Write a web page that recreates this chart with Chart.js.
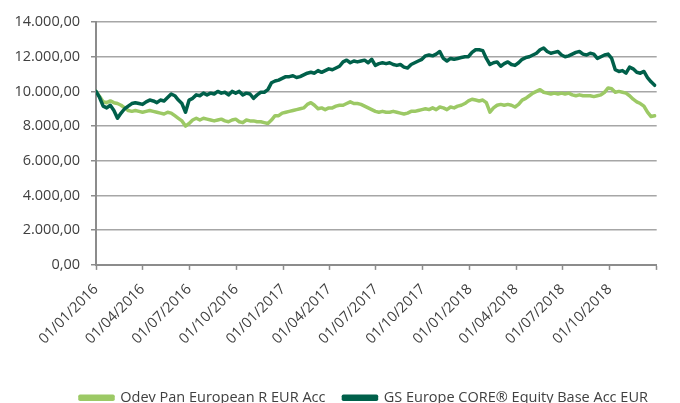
<!DOCTYPE html>
<html>
<head>
<meta charset="utf-8">
<script src="https://cdn.jsdelivr.net/npm/chart.js@4.4.1/dist/chart.umd.min.js"></script>
<style>
  html, body { margin: 0; padding: 0; background: #fff; }
  #wrap { width: 680px; height: 403px; overflow: hidden; }
</style>
</head>
<body>
<div id="wrap"><canvas id="chart" width="680" height="415"></canvas></div>
<script>
// weekly samples from 01/01/2016
const odey = [
  10000, 9700, 9400, 9350, 9450, 9350, 9300, 9200, 9050, 8900, 8850, 8900, 8850, 8800, 8850, 8900, 8850, 8800, 8750, 8700, 8800, 8750, 8600, 8450, 8300, 8000, 8150,
  8350, 8450, 8350, 8450, 8400, 8350, 8300, 8350, 8400, 8300, 8250, 8350, 8400, 8250, 8200, 8350, 8300, 8300, 8250, 8250, 8200, 8150, 8350, 8600, 8600, 8750, 8800,
  8850, 8900, 8950, 9000, 9050, 9250, 9350, 9200, 9000, 9050, 8950, 9050, 9050, 9150, 9200, 9200, 9300, 9400, 9300, 9300, 9250, 9150, 9050, 8950, 8850, 8800,
  8850, 8800, 8800, 8850, 8800, 8750, 8700, 8750, 8850, 8850, 8900, 8950, 9000, 8950, 9050, 8950, 9100, 9050, 8950, 9100, 9050, 9150, 9200, 9300, 9450, 9550, 9500, 9450,
  9500, 9350, 8800, 9050, 9200, 9250, 9200, 9250, 9200, 9100, 9250, 9500, 9600, 9750, 9900, 10000, 10100, 9950, 9900, 9850, 9900, 9850, 9900, 9850, 9900, 9800,
  9750, 9800, 9750, 9750, 9750, 9700, 9750, 9800, 9950, 10200, 10150, 9950, 10000, 9950, 9900, 9750, 9550, 9400, 9300, 9150, 8800, 8550, 8600
];
const gsCore = [
  10000, 9650, 9150, 9050, 9200, 8900, 8450, 8750, 9000, 9150, 9300, 9350, 9300, 9250, 9400, 9500, 9450, 9350, 9500, 9450, 9650, 9850, 9750, 9500, 9300, 8800, 9500,
  9600, 9800, 9750, 9900, 9800, 9900, 9850, 10000, 9900, 9950, 9800, 10000, 9900, 10000, 9800, 9900, 9850, 9600, 9800, 9950, 9950, 10100, 10500, 10600, 10650, 10750, 10850,
  10850, 10900, 10800, 10850, 10950, 11050, 11100, 11050, 11200, 11100, 11200, 11300, 11250, 11350, 11450, 11700, 11800, 11650, 11750, 11700, 11750, 11800, 11650, 11850, 11500, 11600,
  11650, 11600, 11650, 11550, 11500, 11550, 11400, 11350, 11550, 11650, 11750, 11850, 12050, 12100, 12050, 12150, 12300, 11900, 11750, 11900, 11850, 11900, 11950, 12000, 12000, 12250, 12400, 12400,
  12350, 11900, 11550, 11650, 11700, 11450, 11600, 11700, 11550, 11500, 11650, 11850, 11950, 12000, 12100, 12200, 12400, 12500, 12300, 12200, 12250, 12300, 12100, 12000, 12050, 12150,
  12250, 12300, 12150, 12100, 12200, 12150, 11900, 12000, 12100, 12150, 11900, 11250, 11150, 11200, 11050, 11400, 11300, 11100, 11050, 11150, 10800, 10550, 10350
];
const sampleDays = odey.map((_, i) => i * 7);

// quarter starts, days after 01/01/2016
const tickDays = [0, 91, 182, 274, 366, 456, 547, 639, 731, 821, 912, 1004, 1096];
const tickLabels = ['01/01/2016', '01/04/2016', '01/07/2016', '01/10/2016', '01/01/2017', '01/04/2017',
  '01/07/2017', '01/10/2017', '01/01/2018', '01/04/2018', '01/07/2018', '01/10/2018', ''];
const yTickLabels = ['0,00', '2.000,00', '4.000,00', '6.000,00', '8.000,00', '10.000,00', '12.000,00', '14.000,00'];

const labelsFont = { family: "'Open Sans', 'Liberation Sans', sans-serif", size: 14.5 };
const axisGray = '#8c8c8c';

// the legend in the original starts under the y axis, not at the canvas edge
const legendShift = {
  id: 'legendShift',
  afterLayout(chart) { chart.legend.left = 62; },
};

new Chart(document.getElementById('chart'), {
  type: 'line',
  data: {
    datasets: [
      {
        label: 'Odev Pan European R EUR Acc',
        data: odey.map((v, i) => ({ x: sampleDays[i], y: v })),
        borderColor: '#9cc965',
        backgroundColor: '#9cc965',
        borderWidth: 3.5,
        pointRadius: 0,
        order: 1,
      },
      {
        label: 'GS Europe CORE® Equity Base Acc EUR',
        data: gsCore.map((v, i) => ({ x: sampleDays[i], y: v })),
        borderColor: '#00604a',
        backgroundColor: '#00604a',
        borderWidth: 3.5,
        pointRadius: 0,
        order: 0,
      },
    ],
  },
  plugins: [legendShift],
  options: {
    responsive: false,
    devicePixelRatio: 1,
    animation: false,
    layout: { padding: { left: 0, top: 22, right: 2, bottom: 0 } },
    elements: { line: { borderJoinStyle: 'round', borderCapStyle: 'round', tension: 0 } },
    plugins: {
      tooltip: { enabled: false },
      legend: {
        position: 'bottom',
        align: 'start',
        labels: {
          boxWidth: 33,
          boxHeight: 3,
          padding: 18,
          color: '#404040',
          font: labelsFont,
          sort: (a, b) => a.datasetIndex - b.datasetIndex,
        },
      },
    },
    scales: {
      x: {
        type: 'linear',
        min: 0,
        max: 1096,
        afterBuildTicks: (scale) => { scale.ticks = tickDays.map(v => ({ value: v })); },
        afterFit: (scale) => { scale.height = 107.6; },
        ticks: {
          autoSkip: false,
          maxRotation: 45,
          minRotation: 45,
          padding: 11,
          color: '#404040',
          font: labelsFont,
          callback: (v, i) => tickLabels[i],
        },
        grid: { drawOnChartArea: false, tickLength: 5, tickColor: axisGray, tickWidth: 1.5 },
        border: { color: axisGray, width: 2 },
      },
      y: {
        min: 0,
        max: 14000,
        afterBuildTicks: (scale) => { scale.ticks = yTickLabels.map((_, i) => ({ value: i * 2000 })); },
        afterFit: (scale) => { scale.width = 96; },
        ticks: {
          padding: 11,
          color: '#404040',
          font: labelsFont,
          callback: (v, i) => yTickLabels[i],
        },
        grid: { color: '#a6a6a6', lineWidth: 1.5, tickLength: 5, tickColor: axisGray },
        border: { color: axisGray, width: 2 },
      },
    },
  },
});
</script>
</body>
</html>
